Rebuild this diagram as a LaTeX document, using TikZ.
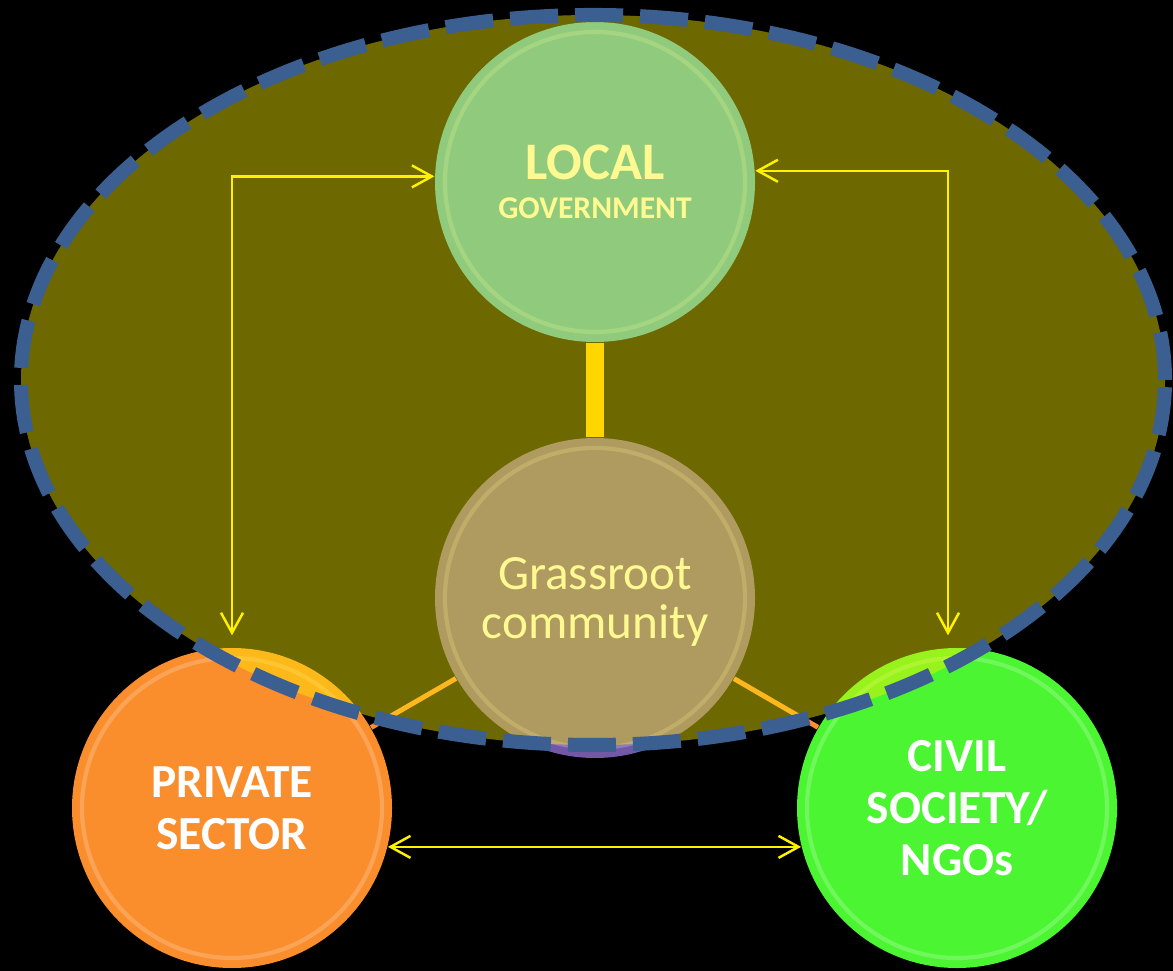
\documentclass[tikz,border=0pt]{standalone}
\usepackage{fontspec}
\setmainfont{Carlito}
\usetikzlibrary{arrows.meta}

\definecolor{govblue}{RGB}{60,175,220}
\definecolor{grasspurple}{RGB}{116,88,168}
\definecolor{privorange}{RGB}{250,142,45}
\definecolor{civgreen}{RGB}{75,245,50}
\definecolor{rimblue}{RGB}{60,95,145}
\definecolor{bargold}{RGB}{255,193,0}
\definecolor{spokeorange}{RGB}{254,140,52}

\begin{document}
\begin{tikzpicture}[
  ball/.style={circle,minimum size=3.2cm,inner sep=0pt,text=white,align=center,
    path picture={\draw[white,opacity=.2,line width=1.2pt]
      (path picture bounding box.center) circle (1.5cm);}},
  link/.style={yellow,line width=0.7pt,
    {Straight Barb[length=2mm,width=2.2mm]}-{Straight Barb[length=2mm,width=2.2mm]}}]
  \fill[black] (0,0) rectangle (11.73,-9.71);
  \useasboundingbox (0,0) rectangle (11.73,-9.71);
  % the four partners
  \node[ball,fill=govblue,font=\bfseries] (gov) at (5.95,-1.82)
    {\fontsize{15}{16}\selectfont LOCAL\\[-1pt]\fontsize{9}{11}\selectfont GOVERNMENT};
  \node[ball,fill=grasspurple,font=\fontsize{14}{14.2}\selectfont,text depth=-4pt] (grass) at (5.95,-5.98)
    {Grassroot\\community};
  \node[ball,fill=privorange,font=\bfseries\fontsize{13.5}{14.8}\selectfont] (priv) at (2.32,-8.08)
    {PRIVATE\\SECTOR};
  \node[ball,fill=civgreen,font=\bfseries\fontsize{13.5}{14.8}\selectfont] (civ) at (9.57,-8.08)
    {CIVIL\\SOCIETY/\\NGOs};
  \draw[bargold,line width=0.18cm] (gov) -- (grass);
  \draw[spokeorange,line width=1.4pt] (grass) -- (priv);
  \draw[spokeorange,line width=1.4pt] (grass) -- (civ);
  % local arena
  \fill[yellow,opacity=.43] (5.93,-3.8) ellipse [x radius=5.72cm, y radius=3.65cm];
  \draw[rimblue,line width=4pt,dash pattern=on 0.48cm off 0.17cm]
    (5.93,-3.8) ellipse [x radius=5.72cm, y radius=3.65cm];
  \draw[link] (gov.178) -| ([yshift=0.12cm]priv.north);
  \draw[link] (gov.4) -| ([shift={(-0.09,0.12)}]civ.north);
  \draw[link] (priv.-14) -- (civ.194);
\end{tikzpicture}
\end{document}
